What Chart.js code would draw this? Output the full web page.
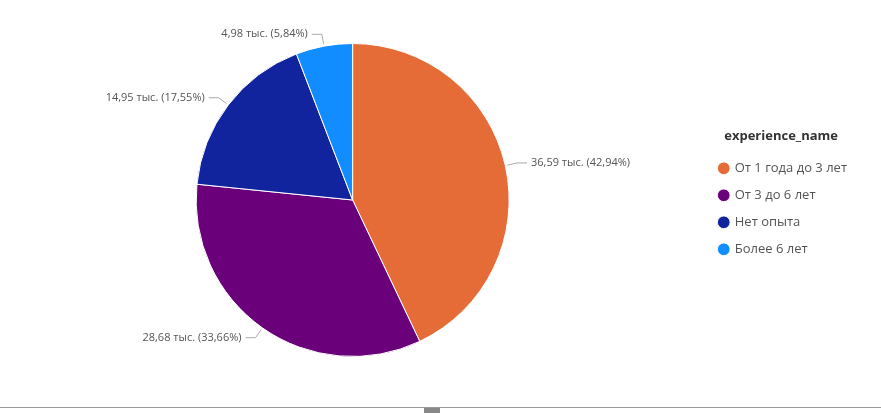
<!DOCTYPE html>
<html>
<head>
<meta charset="utf-8">
<script src="https://cdn.jsdelivr.net/npm/chart.js@4.4.0/dist/chart.umd.min.js"></script>
<style>
  body { margin: 0; background: #fff; font-family: "Open Sans", sans-serif; }
  #wrap { position: relative; width: 881px; height: 405px; }
  #bottomLine { position: absolute; left: 0; top: 407px; width: 881px; height: 1px; background: #999; }
  #handle { position: absolute; left: 424px; top: 408px; width: 16px; height: 5px; background: #888; }
</style>
</head>
<body>
<div id="wrap"><canvas id="graph" width="881" height="405"></canvas></div>
<div id="bottomLine"></div>
<div id="handle"></div>
<script>
const categories = ["От 1 года до 3 лет", "От 3 до 6 лет", "Нет опыта", "Более 6 лет"]
const values = [36.59, 28.68, 14.95, 4.98]
const valueLabels = ["36,59 тыс. (42,94%)", "28,68 тыс. (33,66%)", "14,95 тыс. (17,55%)", "4,98 тыс. (5,84%)"]
const colors = ["#E66C37", "#6B007B", "#12239E", "#118DFF"]

// draw the outside labels with small leader lines
const leaderLabels = {
    id: "leaderLabels",
    afterDatasetsDraw(chart) {
        const ctx = chart.ctx
        const arcs = chart.getDatasetMeta(0).data
        ctx.save()
        ctx.font = "11px 'Open Sans', sans-serif"
        ctx.fillStyle = "#555"
        ctx.strokeStyle = "#aaa"
        ctx.lineWidth = 1
        arcs.forEach((arc, i) => {
            const mid = (arc.startAngle + arc.endAngle) / 2
            const r = arc.outerRadius
            const x0 = arc.x + Math.cos(mid) * (r + 2)
            const y0 = arc.y + Math.sin(mid) * (r + 2)
            const x1 = arc.x + Math.cos(mid) * (r + 12)
            const y1 = arc.y + Math.sin(mid) * (r + 12)
            const right = Math.cos(mid) >= 0
            const x2 = x1 + (right ? 10 : -10)
            ctx.beginPath()
            ctx.moveTo(x0, y0)
            ctx.lineTo(x1, y1)
            ctx.lineTo(x2, y1)
            ctx.stroke()
            ctx.textBaseline = "middle"
            ctx.textAlign = right ? "left" : "right"
            ctx.fillText(valueLabels[i], x2 + (right ? 4 : -4), y1)
        })
        ctx.restore()
    },
}

const chartID = document.getElementById("graph").getContext("2d")
let graphic = new Chart(chartID, {
    type: "pie",
    data: {
        labels: categories,
        datasets: [
            {
                data: values,
                backgroundColor: colors,
                borderColor: "#fff",
                borderWidth: 1,
            },
        ],
    },
    options: {
        responsive: false,
        animation: false,
        layout: { padding: { top: 43, bottom: 48, left: 0, right: 24 } },
        plugins: {
            tooltip: { enabled: false },
            legend: {
                position: "right",
                align: "center",
                title: {
                    display: true,
                    text: "experience_name",
                    color: "#333",
                    font: { size: 13, weight: "bold", family: "'Open Sans', sans-serif" },
                    padding: { top: 0, bottom: 2 },
                },
                labels: {
                    usePointStyle: true,
                    pointStyle: "circle",
                    boxWidth: 9,
                    boxHeight: 9,
                    padding: 14,
                    color: "#555",
                    font: { size: 13, family: "'Open Sans', sans-serif" },
                },
            },
        },
    },
    plugins: [leaderLabels],
})
</script>
</body>
</html>
